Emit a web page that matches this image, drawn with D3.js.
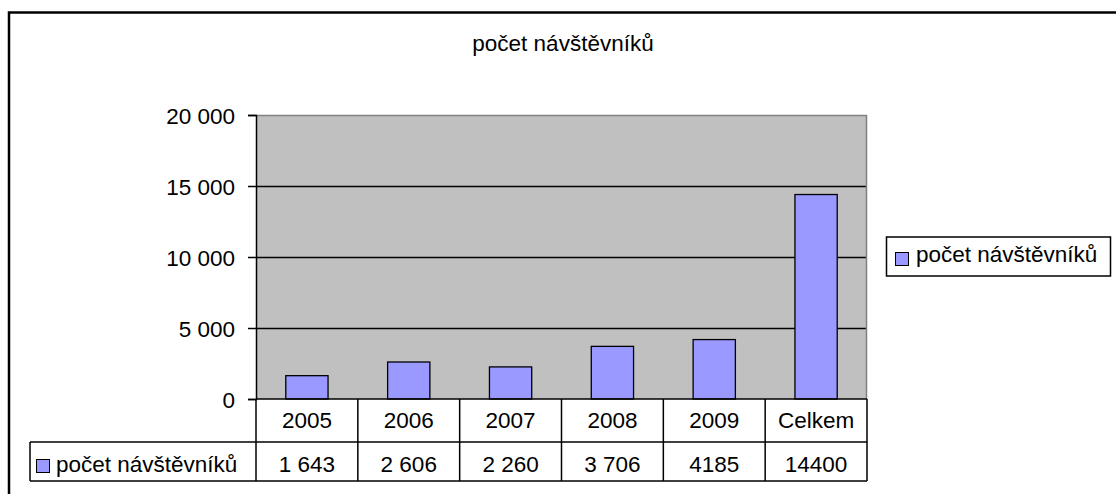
<!DOCTYPE html>
<html>
<head>
<meta charset="utf-8">
<script src="https://cdn.jsdelivr.net/npm/d3@7"></script>
<style>
  body { margin: 0; background: #fff; }
  svg { display: block; font-family: "Liberation Sans", Arial, sans-serif; }
</style>
</head>
<body>
<div class="chart"></div>
<script>
var w = 1116;
var h = 494;

// data
var categories = ["2005", "2006", "2007", "2008", "2009", "Celkem"];
var values = [1643, 2606, 2260, 3706, 4185, 14400];
var valueLabels = ["1 643", "2 606", "2 260", "3 706", "4185", "14400"];
var yTicks = [0, 5000, 10000, 15000, 20000];
var seriesName = "počet návštěvníků";

var plotLeft = 256, plotRight = 867, plotTop = 115, plotBottom = 399;
var rowH1 = 43, rowH2 = 39;
var fontSize = 22.5;

var svg = d3.select(".chart").append("svg")
  .attr("width", w)
  .attr("height", h);

// outer frame (runs off right and bottom)
svg.append("rect")
  .attr("x", 9).attr("y", 12.5)
  .attr("width", w + 10).attr("height", h + 10)
  .attr("fill", "#fff")
  .attr("stroke", "#000")
  .attr("stroke-width", 2.5);

// title
svg.append("text")
  .text(seriesName)
  .attr("x", 563).attr("y", 51)
  .attr("text-anchor", "middle")
  .attr("font-size", fontSize)
  .attr("fill", "#000");

var x = d3.scaleBand()
  .domain(categories)
  .range([plotLeft, plotRight])
  .paddingInner(0.585)
  .paddingOuter(0.2925);

var xCell = d3.scaleBand()
  .domain(categories)
  .range([plotLeft, plotRight]);

var y = d3.scaleLinear()
  .domain([0, 20000])
  .range([plotBottom, plotTop]);

// plot area
svg.append("rect")
  .attr("x", plotLeft).attr("y", plotTop)
  .attr("width", plotRight - plotLeft).attr("height", plotBottom - plotTop)
  .attr("fill", "#c0c0c0");

// grid lines
svg.append("g")
  .selectAll("line")
  .data(yTicks.filter(function (d) { return d > 0 && d < 20000; }))
  .enter().append("line")
  .attr("x1", plotLeft).attr("x2", plotRight)
  .attr("y1", function (d) { return Math.round(y(d)) + 0.5; })
  .attr("y2", function (d) { return Math.round(y(d)) + 0.5; })
  .attr("stroke", "#000")
  .attr("stroke-width", 1.5);

// plot border top/right gray
svg.append("path")
  .attr("d", "M" + plotLeft + "," + (plotTop + 0.5) + "H" + (plotRight - 0.5) + "V" + plotBottom)
  .attr("fill", "none")
  .attr("stroke", "#808080")
  .attr("stroke-width", 1.5);

// bars
svg.append("g")
  .selectAll("rect")
  .data(values)
  .enter().append("rect")
  .attr("x", function (d, i) { return x(categories[i]); })
  .attr("y", function (d) { return y(d); })
  .attr("width", x.bandwidth())
  .attr("height", function (d) { return plotBottom - y(d); })
  .attr("fill", "#9999ff")
  .attr("stroke", "#000")
  .attr("stroke-width", 1.3);

// y axis
var yAxis = d3.axisLeft(y)
  .tickValues(yTicks)
  .tickSize(8)
  .tickPadding(13)
  .tickFormat(function (d) { return d3.format(",")(d).replace(/,/g, " "); });

var ya = svg.append("g")
  .attr("transform", "translate(" + plotLeft + ",0)")
  .call(yAxis);
ya.select(".domain").attr("stroke", "#000").attr("stroke-width", 1.5);
ya.selectAll(".tick line").attr("stroke", "#000").attr("stroke-width", 1.5);
ya.selectAll("text")
  .attr("dy", "0.36em")
  .attr("font-size", fontSize)
  .attr("font-family", "Liberation Sans, Arial, sans-serif")
  .attr("fill", "#000");

// data table
var table = svg.append("g").attr("stroke", "#000").attr("stroke-width", 1.5).attr("fill", "none");
var row1Bottom = plotBottom + rowH1;
var row2Bottom = row1Bottom + rowH2;
var tableLeft = 30;

table.append("line")
  .attr("x1", plotLeft).attr("x2", plotRight)
  .attr("y1", plotBottom).attr("y2", plotBottom);
table.append("line")
  .attr("x1", tableLeft).attr("x2", plotRight)
  .attr("y1", row1Bottom).attr("y2", row1Bottom);
table.append("line")
  .attr("x1", tableLeft).attr("x2", plotRight)
  .attr("y1", row2Bottom).attr("y2", row2Bottom);
table.append("line")
  .attr("x1", tableLeft).attr("x2", tableLeft)
  .attr("y1", row1Bottom).attr("y2", row2Bottom);

table.selectAll("line.col")
  .data(categories)
  .enter().append("line")
  .attr("class", "col")
  .attr("x1", function (d) { return xCell(d); })
  .attr("x2", function (d) { return xCell(d); })
  .attr("y1", plotBottom).attr("y2", row2Bottom);
table.append("line")
  .attr("x1", plotRight).attr("x2", plotRight)
  .attr("y1", plotBottom).attr("y2", row2Bottom);

svg.append("g")
  .selectAll("text")
  .data(categories)
  .enter().append("text")
  .text(function (d) { return d; })
  .attr("x", function (d) { return xCell(d) + xCell.bandwidth() / 2; })
  .attr("y", 428)
  .attr("text-anchor", "middle")
  .attr("font-size", fontSize)
  .attr("fill", "#000");

svg.append("g")
  .selectAll("text")
  .data(valueLabels)
  .enter().append("text")
  .text(function (d) { return d; })
  .attr("x", function (d, i) { return xCell(categories[i]) + xCell.bandwidth() / 2; })
  .attr("y", 471.5)
  .attr("text-anchor", "middle")
  .attr("font-size", fontSize)
  .attr("fill", "#000");

// row header with key
svg.append("rect")
  .attr("x", 36.5).attr("y", 459.5)
  .attr("width", 13).attr("height", 13)
  .attr("fill", "#9999ff").attr("stroke", "#000");
svg.append("text")
  .text(seriesName)
  .attr("x", 56).attr("y", 471.5)
  .attr("font-size", fontSize)
  .attr("fill", "#000");

// legend
svg.append("rect")
  .attr("x", 886.5).attr("y", 237)
  .attr("width", 224).attr("height", 39)
  .attr("fill", "#fff").attr("stroke", "#000").attr("stroke-width", 1.5);
svg.append("rect")
  .attr("x", 895.5).attr("y", 252.5)
  .attr("width", 13).attr("height", 13)
  .attr("fill", "#9999ff").attr("stroke", "#000");
svg.append("text")
  .text(seriesName)
  .attr("x", 916).attr("y", 262)
  .attr("font-size", fontSize)
  .attr("fill", "#000");
</script>
</body>
</html>
